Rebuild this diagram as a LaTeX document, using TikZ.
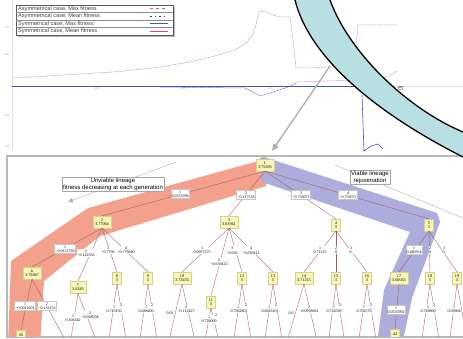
\documentclass[tikz,border=0pt]{standalone}
\usepackage{fontspec}
\setmainfont{Liberation Serif}
\newfontfamily\sansfont{Liberation Sans}
\usetikzlibrary{arrows.meta}

\definecolor{bandcyan}{HTML}{B8E0E3}
\definecolor{unviable}{HTML}{F3A08C}
\definecolor{viable}{HTML}{ACACDD}
\definecolor{boxfill}{HTML}{F8F5B8}
\definecolor{boxline}{HTML}{D6D08A}
\definecolor{treeedge}{HTML}{A65A5A}
\definecolor{maxcurve}{HTML}{B98AD8}
\definecolor{axisblue}{HTML}{4B50B2}
\definecolor{legpink}{HTML}{D8589C}
\definecolor{legnavy}{HTML}{2F3B82}
\definecolor{legblue}{HTML}{3A5BC0}
\definecolor{legmagenta}{HTML}{E03AA0}

\begin{document}
\begin{tikzpicture}[x=1pt,y=-1pt,
  genbox/.style={draw=boxline,fill=boxfill,align=center,inner sep=2.2pt,minimum width=9pt,font=\fontsize{4.2}{4.6}\selectfont},
  gainlbl/.style={fill=white,align=center,inner sep=0.5pt,font=\fontsize{4}{4.5}\selectfont},
  gainbox/.style={gainlbl,draw=gray!45,inner sep=0.8pt},
  callout/.style={draw=gray!70,fill=white,align=center,inner sep=1pt,font=\sansfont\fontsize{6}{6.6}\selectfont},
  legtext/.style={anchor=west,inner sep=0pt,text=black!75,font=\sansfont\fontsize{5.6}{6}\selectfont},
  tick/.style={text=gray,inner sep=0pt,font=\sansfont\fontsize{2.6}{3}\selectfont},
  treeline/.style={treeedge,line width=0.35pt}
]
  \useasboundingbox (0,0) rectangle (463,339);
  \clip (0,0) rectangle (463,339);

  % fitness plot
  \draw[gray!25] (12,0) -- (12,150);
  \draw[gray!25] (12,86) -- (463,86);
  \node[tick] (y1) at (7,28) {1.0};
  \node[tick] (y2) at (7,55) {0.5};
  \node[tick] (y3) at (7,116) {-0.5};
  \node[tick] (y4) at (7,147) {-1.0};
  \node[tick] (x1) at (97,89) {0.5};
  \node[tick] (x2) at (183,89) {1.0};
  \node[tick] (x3) at (270,89) {1.5};
  \draw[maxcurve,line width=0.5pt,dash pattern=on 1.5pt off 0.8pt]
    (12,78) -- (40,76.5) -- (80,74) -- (120,71.5) -- (160,67) -- (190,62) -- (215,56)
    -- (235,50) -- (245,44) -- (252,36) -- (256,25) -- (259,11) -- (266,12) -- (273,15)
    -- (280,17) -- (290,17) -- (293,40) -- (296,68) -- (310,68) -- (327,67) -- (335,65) -- (345,59);
  \draw[maxcurve,line width=0.5pt,dash pattern=on 1.5pt off 0.8pt]
    (356,45) -- (358,25) -- (397,25);
  \draw[maxcurve,line width=0.5pt,dash pattern=on 1.5pt off 0.8pt]
    (372,80) -- (384,78) -- (391,75) -- (397,71);
  \draw[axisblue,line width=0.7pt] (12,86) -- (360,86);
  \draw[legnavy!80,line width=0.5pt,dash pattern=on 1pt off 0.6pt]
    (160,87) -- (245,88) -- (255,93) -- (260,96) -- (273,92) -- (288,87) -- (297,83);
  \draw[maxcurve,line width=0.5pt,dash pattern=on 1.5pt off 0.8pt] (297,82) -- (355,80);
  \draw[axisblue,line width=0.6pt] (362,95) -- (364,151) -- (371,146) -- (378,144) -- (383,149);
  \node[draw=gray!60,fill=white,inner sep=0.6pt,font=\sansfont\fontsize{3}{3.4}\selectfont] (mark) at (400,87.5) {13};

  % legend
  \fill[gray!55] (18,7) rectangle (175,37);
  \draw[black!65,fill=white,line width=0.6pt] (16,5) rectangle (173,35);
  \draw[black!45,line width=0.4pt] (16,12.5) -- (173,12.5);
  \draw[black!45,line width=0.4pt] (16,20) -- (173,20);
  \draw[black!45,line width=0.4pt] (16,27.5) -- (173,27.5);
  \node[legtext] (leg1) at (18,8.8) {Asymmetrical case, Max fitness};
  \node[legtext] (leg2) at (18,16.3) {Asymmetrical case, Mean fitness};
  \node[legtext] (leg3) at (18,23.8) {Symmetrical case, Max fitness};
  \node[legtext] (leg4) at (18,31.3) {Symmetrical case, Mean fitness};
  \draw[legpink,line width=1pt,dash pattern=on 3pt off 3pt] (150,8.8) -- (168,8.8);
  \draw[legnavy,line width=1.1pt,dash pattern=on 1.5pt off 3pt] (150,16.3) -- (168,16.3);
  \draw[legblue,line width=1.4pt] (150,23.8) -- (168,23.8);
  \draw[legmagenta,line width=1.3pt] (150,31.3) -- (168,31.3);

  % zoom arrow
  \coordinate (zoomfrom) at (330,66);
  \coordinate (zoomto) at (272,151);
  \draw[gray!65,line width=1.3pt,-{Triangle[length=7pt,width=6pt]}] (zoomfrom) -- (zoomto);

  % lineage tree panel
  \draw[gray!55,fill=white,line width=1.2pt] (7,156) rectangle (475,337);
  \begin{scope}
    \clip (7,156) rectangle (463,336.4);
    \fill[unviable] (8,345) -- (11,261) -- (88,208) -- (262,160) -- (268,168) -- (266,186)
      -- (100,236) -- (44,281) -- (40,345) -- cycle;
    \fill[viable] (260,158) -- (264,157) -- (437,213) -- (440,222) -- (412,298) -- (402,345)
      -- (377,345) -- (384,290) -- (410,232) -- (262,182) -- cycle;

    \coordinate (uvtail) at (176,162);
    \coordinate (uvtip) at (68,202);
    \draw[gray!60,line width=0.4pt,-{Triangle[length=5pt,width=4.5pt]}] (uvtail) -- (uvtip);
    \coordinate (vtail) at (335,165);
    \coordinate (vhead) at (470,221);
    \draw[gray!60,line width=0.4pt] (vtail) -- (vhead);

    \node[genbox] (n1) at (265,165) {1\\3.75693};
    \node[genbox] (n2) at (102,222) {2\\3.77064};
    \node[genbox] (n3) at (229,222) {3\\3.63941};
    \node[genbox] (n4) at (336,225) {4\\3};
    \node[genbox] (n5) at (429,225) {5\\3};
    \node[genbox] (n6) at (32,273) {6\\3.75867};
    \node[genbox] (n7) at (78,287) {7\\3.6283};
    \node[genbox] (n8) at (117,278) {8\\3};
    \node[genbox] (n9) at (148,278) {9\\3};
    \node[genbox] (n10) at (182,278) {10\\3.73474};
    \node[genbox] (n11) at (211,302) {11\\3};
    \node[genbox] (n12) at (242,278) {12\\3};
    \node[genbox] (n13) at (273,278) {13\\3};
    \node[genbox] (n14) at (304,278) {14\\3.71215};
    \node[genbox] (n15) at (336,278) {15\\3};
    \node[genbox] (n16) at (367,278) {16\\3};
    \node[genbox] (n17) at (399,278) {17\\3.60035};
    \node[genbox] (n18) at (430,278) {18\\3};
    \node[genbox] (n19) at (457,278) {19\\3};
    \node[genbox,anchor=north,minimum height=9pt] (n26) at (21,330) {26};
    \node[genbox,anchor=north,minimum height=9pt] (n42) at (395,329) {42};

    \coordinate (b62) at (68,345);
    \coordinate (b71) at (70,345);   \coordinate (b72) at (98,345);
    \coordinate (b81) at (108,345);  \coordinate (b82) at (127,345);
    \coordinate (b91) at (139,345);  \coordinate (b92) at (158,345);
    \coordinate (b101) at (168,345); \coordinate (b102) at (196,345);
    \coordinate (b111) at (204,345); \coordinate (b112) at (220,345);
    \coordinate (b121) at (233,345); \coordinate (b122) at (252,345);
    \coordinate (b131) at (264,345); \coordinate (b132) at (283,345);
    \coordinate (b141) at (286,345); \coordinate (b142) at (318,345);
    \coordinate (b151) at (328,345); \coordinate (b152) at (345,345);
    \coordinate (b161) at (358,345); \coordinate (b162) at (377,345);
    \coordinate (b181) at (421,345); \coordinate (b182) at (440,345);
    \coordinate (b191) at (449,345); \coordinate (b192) at (468,345);

    \draw[treeline] (n1.south) -- (n2.north);
    \draw[treeline] (n1.south) -- (n3.north);
    \draw[treeline] (n1.south) -- (n4.north);
    \draw[treeline] (n1.south) -- (n5.north);
    \draw[treeline] (n2.south) -- (n6.north);
    \draw[treeline] (n2.south) -- (n7.north);
    \draw[treeline] (n2.south) -- (n8.north);
    \draw[treeline] (n2.south) -- (n9.north);
    \draw[treeline] (n3.south) -- (n10.north);
    \draw[treeline] (n3.south) -- (n11.north);
    \draw[treeline] (n3.south) -- (n12.north);
    \draw[treeline] (n3.south) -- (n13.north);
    \draw[treeline] (n4.south) -- (n14.north);
    \draw[treeline] (n4.south) -- (n15.north);
    \draw[treeline] (n4.south) -- (n16.north);
    \draw[treeline] (n5.south) -- (n17.north);
    \draw[treeline] (n5.south) -- (n18.north);
    \draw[treeline] (n5.south) -- (n19.north);
    \draw[treeline] (n6.south) -- (n26.north);
    \draw[treeline] (n6.south) -- (b62);
    \draw[treeline] (n7.south) -- (b71);
    \draw[treeline] (n7.south) -- (b72);
    \draw[treeline] (n8.south) -- (b81);
    \draw[treeline] (n8.south) -- (b82);
    \draw[treeline] (n9.south) -- (b91);
    \draw[treeline] (n9.south) -- (b92);
    \draw[treeline] (n10.south) -- (b101);
    \draw[treeline] (n10.south) -- (b102);
    \draw[treeline] (n11.south) -- (b111);
    \draw[treeline] (n11.south) -- (b112);
    \draw[treeline] (n12.south) -- (b121);
    \draw[treeline] (n12.south) -- (b122);
    \draw[treeline] (n13.south) -- (b131);
    \draw[treeline] (n13.south) -- (b132);
    \draw[treeline] (n14.south) -- (b141);
    \draw[treeline] (n14.south) -- (b142);
    \draw[treeline] (n15.south) -- (b151);
    \draw[treeline] (n15.south) -- (b152);
    \draw[treeline] (n16.south) -- (b161);
    \draw[treeline] (n16.south) -- (b162);
    \draw[treeline] (n17.south) -- (n42.north);
    \draw[treeline] (n18.south) -- (b181);
    \draw[treeline] (n18.south) -- (b182);
    \draw[treeline] (n19.south) -- (b191);
    \draw[treeline] (n19.south) -- (b192);

    % gains on the edges
    \node[gainbox] (g12) at (180,194) {1\\0.0137698};
    \node[gainbox] (g13) at (246,195) {2\\−0.117518};
    \node[gainbox] (g14) at (301,195) {3\\−0.756071};
    \node[gainbox] (g15) at (348,195) {4\\−0.756071};
    \node[gainbox] (g26) at (65,249) {1\\−0.0121728};
    \node[gainlbl] (g27) at (86,253) {2\\−0.142356};
    \node[gainlbl] (g28) at (108,250) {3\\−0.7796};
    \node[gainlbl] (g29) at (126,250) {4\\−0.779640};
    \node[gainlbl] (g310) at (202,250) {1\\0.0957275};
    \node[gainlbl] (g311) at (219,262) {2\\−0.639412};
    \node[gainlbl] (g312) at (232,250.5) {3\\−0.636};
    \node[gainlbl] (g313) at (251,250.5) {4\\−0.639412};
    \node[gainlbl] (g414) at (320,250) {1\\0.71215};
    \node[gainlbl] (g415) at (336,250) {2\\0};
    \node[gainlbl] (g416) at (351,250) {3\\0.};
    \node[gainbox] (g517) at (414,250) {1\\0.480354};
    \node[gainlbl] (g518) at (430,250) {2\\0};
    \node[gainlbl] (g519) at (444,250) {3\\0.};
    \node[gainbox] (g61) at (25,306) {1\\−0.0021601};
    \node[gainbox] (g62) at (47,306) {2\\−0.132152};
    \node[gainlbl] (g71) at (73,318) {1\\0.104342};
    \node[gainlbl] (g72) at (90,315) {2\\−0.028504};
    \node[gainlbl] (g81) at (114,309) {1\\0.710150};
    \node[gainlbl] (g82) at (121,305.5) {2};
    \node[gainlbl] (g91) at (146,309) {1\\0.688400};
    \node[gainlbl] (g92) at (152,305.5) {2};
    \node[gainlbl] (g101) at (170,313) {0.01};
    \node[gainlbl] (g102) at (186,309) {2\\−0.112427};
    \node[gainlbl] (g111) at (209,319) {1\\0.728000};
    \node[gainlbl] (g112) at (216,315) {2};
    \node[gainlbl] (g121) at (238,309) {1\\0.706280};
    \node[gainlbl] (g122) at (246,305.5) {2};
    \node[gainlbl] (g131) at (269,309) {1\\0.664310};
    \node[gainlbl] (g132) at (276,305.5) {2};
    \node[gainlbl] (g141) at (291,313) {0.0};
    \node[gainlbl] (g142) at (309,309) {2\\−0.0958681};
    \node[gainlbl] (g151) at (334,309) {1\\0.724590};
    \node[gainlbl] (g152) at (340,305.5) {2};
    \node[gainlbl] (g161) at (364,309) {1\\0.702570};
    \node[gainlbl] (g162) at (371,305.5) {2};
    \node[gainbox] (g171) at (396,310) {1\\0.0535992};
    \node[gainlbl] (g181) at (428,309) {1\\0.728800};
    \node[gainlbl] (g182) at (434,305.5) {2};
    \node[gainlbl] (g191) at (454,309) {1\\0.69904};

    \node[callout] (unviablebox) at (113,184.5) {Unviable lineage\\fitness decreasing at each generation};
    \node[callout] (viablebox) at (370,177.5) {Viable lineage\\rejuvenation};
  \end{scope}

  % magnifier band
  \draw[black,fill=bandcyan,line width=1.3pt]
    (292.5,-10) -- (295,0) .. controls (310,60) and (380,115) .. (463,157) -- (480,165.6)
    -- (480,139) -- (463,132) .. controls (410,110) and (350,55) .. (330,0) -- (326.4,-10) -- cycle;
\end{tikzpicture}
\end{document}
